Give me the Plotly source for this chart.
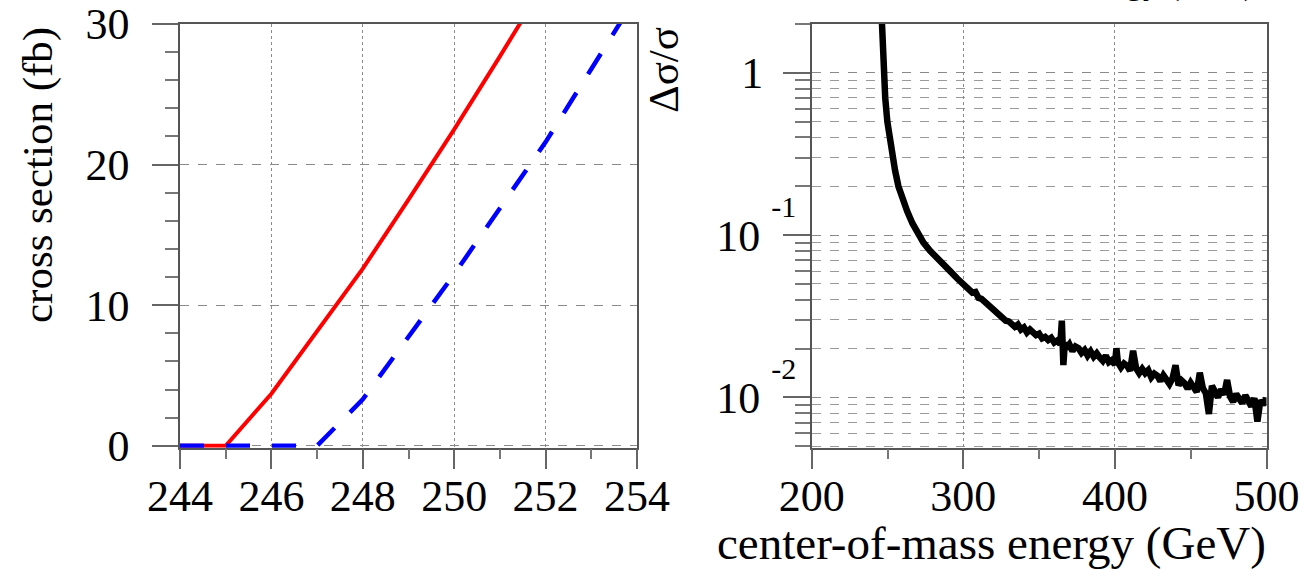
import plotly.graph_objects as go

W, H = 1309, 570
FONT = "Liberation Serif"

# ---------------- data ----------------
# left panel: cross section near threshold (fb)
red_x = [244, 245, 246, 247, 248, 249, 250, 251, 252]
red_y = [0, 0, 3.7, 8.2, 12.6, 17.5, 22.5, 27.7, 33.0]
blue_x = [244, 247, 248, 249, 250, 251, 252, 253, 254]
blue_y = [0, 0, 3.3, 7.7, 12.2, 16.9, 21.6, 26.8, 32.0]

# right panel: relative precision vs centre-of-mass energy
rel_x = [246.0, 246.5, 247.3, 248.5, 249.9, 251.2, 253.2, 255.0, 257.2, 260.0,
         263.0, 266.5, 270.4, 273.7, 278.1, 283.6, 291.3, 296.0,
         300, 302, 304, 306, 308, 310, 312, 314, 316, 318,
         320, 322, 324, 326, 328, 330, 332, 334, 336, 338,
         340, 342, 344, 346, 348, 350, 352, 354, 356, 358,
         360, 362, 364, 365, 366, 367, 368, 370, 372, 374, 376, 378,
         380, 382, 384, 386, 388, 390, 392, 394, 396, 398,
         400, 401, 402, 404, 406, 408, 410, 412, 414, 416, 418,
         420, 422, 424, 426, 428, 430, 432, 434, 436, 438,
         440, 442, 444, 446, 448, 450, 452, 454, 456, 458,
         460, 462, 464, 466, 468, 470, 472, 474, 476, 478,
         480, 482, 484, 486, 488, 490, 492, 494, 496, 498, 500]
rel_y = [2.4, 1.6, 1.0, 0.7, 0.5, 0.4, 0.3, 0.25, 0.2, 0.165,
         0.14, 0.118, 0.1, 0.09, 0.08, 0.07, 0.06, 0.054,
         0.0500, 0.0478, 0.0473, 0.0442, 0.0446, 0.0411, 0.0405, 0.0390, 0.0371, 0.0359,
         0.0341, 0.0336, 0.0318, 0.0310, 0.0297, 0.0294, 0.0283, 0.0272, 0.0281, 0.0262,
         0.0270, 0.0251, 0.0262, 0.0249, 0.0242, 0.0247, 0.0231, 0.0236, 0.0226, 0.0233,
         0.0218, 0.0224, 0.0213, 0.0297, 0.0158, 0.0219, 0.0200, 0.0212, 0.0193, 0.0206, 0.0201, 0.0188,
         0.0196, 0.0181, 0.0192, 0.0178, 0.0187, 0.0176, 0.0168, 0.0181, 0.0165, 0.0170,
         0.0159, 0.0201, 0.0164, 0.0153, 0.0162, 0.0157, 0.0146, 0.0194, 0.0151, 0.0141, 0.0150,
         0.0141, 0.0147, 0.0133, 0.0140, 0.0136, 0.0126, 0.0137, 0.0129, 0.0121, 0.0131,
         0.0158, 0.0119, 0.0127, 0.0122, 0.0113, 0.0123, 0.0116, 0.0108, 0.0142, 0.0114,
         0.0106, 0.0079, 0.0118, 0.0109, 0.0100, 0.0112, 0.0104, 0.0128, 0.0101, 0.0094,
         0.0105, 0.0098, 0.0092, 0.0103, 0.0095, 0.0088, 0.0099, 0.0071, 0.0096, 0.0090, 0.0099]

left_xticks = [244, 246, 248, 250, 252, 254]
left_xminor = [245, 247, 249, 251, 253]
left_yticks = [0, 10, 20, 30]
left_yminor = [2, 4, 6, 8, 12, 14, 16, 18, 22, 24, 26, 28]
right_xticks = [200, 300, 400, 500]
right_xminor = [250, 350, 450]
right_yticks = [0.01, 0.1, 1]
SUP = "10\u00a0<span style='font-size:80px'><sup><span style='font-size:30px'>{}</span></sup></span>"
right_yticktext = [SUP.format("-2"), SUP.format("-1"), "1\u00a0\u00a0\u00a0"]
right_yminor = [0.005, 0.006, 0.007, 0.008, 0.009,
                0.02, 0.03, 0.04, 0.05, 0.06, 0.07, 0.08, 0.09,
                0.2, 0.3, 0.4, 0.5, 0.6, 0.7, 0.8, 0.9, 2]

# ---------------- figure ----------------
fig = go.Figure()
fig.add_trace(go.Scatter(x=red_x, y=red_y, mode="lines",
                         line=dict(color="#ff0000", width=4), xaxis="x", yaxis="y"))
fig.add_trace(go.Scatter(x=blue_x, y=blue_y, mode="lines",
                         line=dict(color="#0000ff", width=4.5, dash="24px,22px"),
                         xaxis="x", yaxis="y"))
fig.add_trace(go.Scatter(x=rel_x, y=rel_y, mode="lines",
                         line=dict(color="#000000", width=6.5), xaxis="x2", yaxis="y2"))

tickfont = dict(family=FONT, size=44, color="black")
common = dict(showline=True, linecolor="#555", linewidth=1.5, mirror=True,
              ticks="outside", tickcolor="#666", tickwidth=1.5, automargin=False,
              tickfont=tickfont, zeroline=False, gridcolor="#8a8a8a", gridwidth=1.2)

ydom = [1 - 447.7 / H, 1 - 24 / H]

fig.update_layout(
    width=W, height=H, margin=dict(l=0, r=0, t=0, b=0, autoexpand=False),
    paper_bgcolor="white", plot_bgcolor="white", showlegend=False,
    xaxis=dict(domain=[180 / W, 637 / W], range=[244, 254], anchor="y",
               tickmode="array", tickvals=left_xticks, ticklen=20,
               showgrid=True, griddash="dot",
               minor=dict(tickmode="array", tickvals=left_xminor, ticks="outside",
                          ticklen=10, tickcolor="#777", showgrid=False),
               ticklabelstandoff=-11, **common),
    yaxis=dict(domain=ydom, range=[-0.14, 30], anchor="x",
               tickmode="array", tickvals=left_yticks, ticklen=26,
               showgrid=True, griddash="dash",
               minor=dict(tickmode="array", tickvals=left_yminor, ticks="outside",
                          ticklen=13, tickcolor="#777", showgrid=False),
               ticklabelstandoff=14, **common),
    xaxis2=dict(domain=[811.7 / W, 1266.5 / W], range=[200, 500], anchor="y2",
                tickmode="array", tickvals=right_xticks, ticklen=20,
                showgrid=True, griddash="dot",
                minor=dict(tickmode="array", tickvals=right_xminor, ticks="outside",
                           ticklen=10, tickcolor="#777", showgrid=False),
                ticklabelstandoff=-11, **common),
    yaxis2=dict(domain=ydom, type="log", range=[-2.31, 0.301], anchor="x2",
                tickmode="array", tickvals=right_yticks, ticktext=right_yticktext,
                ticklen=27, showgrid=True, griddash="dash",
                minor=dict(tickmode="array", tickvals=right_yminor, ticks="outside",
                           ticklen=15, tickcolor="#777", showgrid=True,
                           griddash="dash", gridcolor="#9a9a9a", gridwidth=1),
                ticklabelstandoff=-22, **common),
)

title_font = dict(family=FONT, size=43, color="black")
fig.add_annotation(text="cross section (fb)", xref="paper", yref="paper",
                   x=38 / W, y=1 - 25 / H, xanchor="center", yanchor="top",
                   textangle=-90, showarrow=False, font=title_font)
fig.add_annotation(text="\u0394\u03c3/\u03c3", xref="paper", yref="paper",
                   x=663 / W, y=1 - 25 / H, xanchor="center", yanchor="top",
                   textangle=-90, showarrow=False, font=title_font)
fig.add_annotation(text="center-of-mass energy (GeV)", xref="paper", yref="paper",
                   x=1268 / W, y=1 - 543 / H, xanchor="right", yanchor="middle",
                   showarrow=False, font=dict(family=FONT, size=47, color="black"))
# title of the panel above, cut off at the top edge
fig.add_annotation(text="center-of-mass energy (GeV)", xref="paper", yref="paper",
                   x=1257 / W, y=1 - 4 / H, xanchor="right", yanchor="bottom",
                   showarrow=False, font=dict(family=FONT, size=34, color="black"))

fig.write_html("out.html")
